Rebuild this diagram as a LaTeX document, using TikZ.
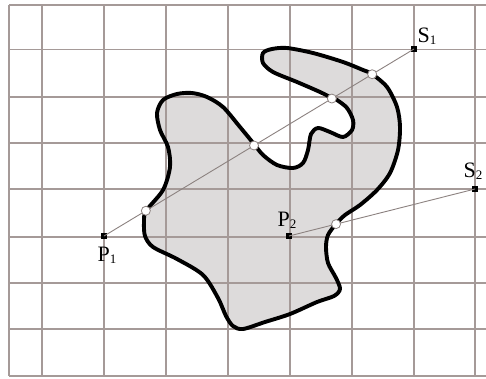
\documentclass[tikz,border=0pt]{standalone}
\usepackage{fontspec}
\setmainfont{Liberation Serif}
\usetikzlibrary{calc}
\definecolor{gridc}{RGB}{165,154,152}
\definecolor{fillc}{RGB}{221,219,219}
\definecolor{rayc}{RGB}{140,130,128}
\newcommand\mysub[1]{\raisebox{-2pt}{\fontsize{13}{13}\selectfont #1}}
\begin{document}
\begin{tikzpicture}[x=1pt,y=-1pt,
  gridline/.style={gridc, line width=1.9pt},
  blob/.style={black, line width=3.9pt, line join=round},
  blobfill/.style={fill=fillc},
  ray/.style={rayc, line width=0.9pt},
  hit/.style={circle, draw=rayc, fill=white, line width=0.8pt, inner sep=0pt, minimum size=9pt},
  pt/.style={rectangle, fill=black, inner sep=0pt, minimum size=5.5pt},
  lbl/.style={font=\fontsize{22}{22}\selectfont, inner sep=0pt}]
\useasboundingbox (0,0) rectangle (486,378);
\fill[white] (0,0) rectangle (486,378);
\def\blobpath{plot[smooth cycle, tension=0.5] coordinates {
 (146,211) (163,190) (170,167) (168,147) (160,130) (157,113) (163,100) (177,94)
 (192,93) (207,97) (223,107) (240,127) (254,144) (263,155) (277,165) (293,168)
 (303,163) (308,150) (311,134) (318,128) (330,132) (343,137) (352,130) (353,120)
 (347,108) (337,100) (332,98) (320,92) (297,82) (273,72) (263,63) (263,53)
 (272,49) (287,48) (313,53) (343,62) (363,70) (372,74) (387,87) (397,107)
 (400,127) (398,150) (390,173) (377,190) (360,205) (345,215) (336,224) (328,235)
 (326,247) (328,263) (336,278) (340,289) (334,296) (317,302) (290,314) (265,322)
 (243,329) (233,326) (226,316) (218,298) (203,275) (177,259) (153,247) (145,236)
 (144,222)}}
\path[blobfill] \blobpath;
\foreach \y in {5,49.5,97,143,189,237,283,329,376}
  \draw[gridline] (9,\y) -- (486,\y);
\foreach \x in {9,42,104,166,228,290,352,414,475}
  \draw[gridline] (\x,5) -- (\x,376);
\draw[blob] \blobpath;
\node[pt] (P1) at (104,236) {};
\node[pt] (S1) at (414,49) {};
\node[pt] (P2) at (289,236) {};
\node[pt] (S2) at (475,189) {};
\draw[ray] (P1.center) -- (S1.center);
\draw[ray] (P2.center) -- (S2.center);
\node[hit] (h1) at ($(P1)!0.135!(S1)$) {};
\node[hit] (h2) at ($(P1)!0.484!(S1)$) {};
\node[hit] (h3) at ($(P1)!0.735!(S1)$) {};
\node[hit] (h4) at ($(P1)!0.865!(S1)$) {};
\node[hit] (h5) at ($(P2)!0.253!(S2)$) {};
\node[lbl] (S1l) at (427,36) {S\mysub{1}};
\node[lbl] (S2l) at (473,171) {S\mysub{2}};
\node[lbl] (P1l) at (107,255) {P\mysub{1}};
\node[lbl] (P2l) at (287,220) {P\mysub{2}};
\end{tikzpicture}
\end{document}
